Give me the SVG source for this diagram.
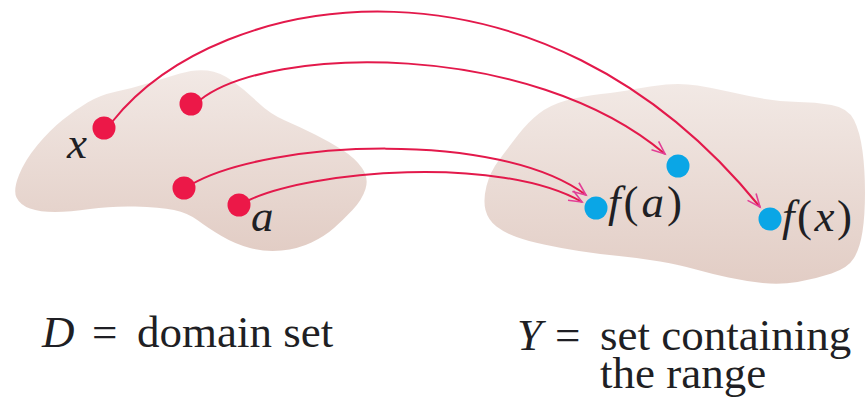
<svg xmlns="http://www.w3.org/2000/svg" width="867" height="406" viewBox="0 0 867 406">
<style>
.t{font-family:'Liberation Serif','Times New Roman',Times,Tinos,'Nimbus Roman','Nimbus Roman No9 L',FreeSerif,'Noto Serif','DejaVu Serif','Noto Serif CJK SC','Source Serif Pro',serif;font-size:45px;fill:#1f1f24}
.it{font-style:italic}
.red{fill:#EC1848}
.blue{fill:#0AA6E6}
.map{fill:none;stroke:#E3194B;stroke-width:2}
</style>
<defs>
<linearGradient id="blob" x1="0" y1="0" x2="0" y2="1">
<stop offset="0" stop-color="#F2E9E5"/>
<stop offset="1" stop-color="#E2CDC5"/>
</linearGradient>
<marker id="arr" markerUnits="userSpaceOnUse" markerWidth="18" markerHeight="16" viewBox="-15 -8 17 16" refX="0" refY="0" orient="auto">
<path d="M-13,-5.5 L0,0 L-13,5.5" fill="none" stroke="#E23E96" stroke-width="1.6"/>
</marker>
</defs>
<g id="domain-set">
<path fill="url(#blob)" d="M16.5,197.5 Q13,190 19,175 Q25,160 37.5,145 Q50,130 62.5,120 Q75,110 87.5,102.5 Q100,95 116.5,91.5 Q133,88 149,83 Q165,78 180,73.5 Q195,69 207.5,70.5 Q220,72 232.5,81 Q245,90 257.5,102 Q270,114 285,120.5 Q300,127 315,134.5 Q330,142 342.5,150 Q355,158 362,168 Q369,178 365.5,189 Q362,200 352.5,210 Q343,220 334,228 Q325,236 311.5,242.5 Q298,249 281.5,250.5 Q265,252 250,248 Q235,244 221.5,236 Q208,228 198,220.5 Q188,213 174,210 Q160,207 135,206.5 Q110,206 90,209 Q70,212 55,212 Q40,212 30,208.5 Q20,205 16.5,197.5 Z"/>
</g>
<g id="range-set">
<path fill="url(#blob)" d="M485.5,210 Q483,200 486.5,186 Q490,172 499,160 Q508,148 518,135 Q528,122 539,113.5 Q550,105 566,100.5 Q582,96 601,94 Q620,92 635,89 Q650,86 666,84.5 Q682,83 697.5,85.5 Q713,88 730.5,92 Q748,96 765,99 Q782,102 798.5,102 Q815,102 831.5,105 Q848,108 854,120 Q860,132 862.5,151 Q865,170 865,192.5 Q865,215 862.5,231.5 Q860,248 854,258 Q848,268 831.5,273.5 Q815,279 797.5,282 Q780,285 762.5,283 Q745,281 728.5,277.5 Q712,274 696,269.5 Q680,265 660,261.5 Q640,258 619,256 Q598,254 579,251 Q560,248 544,244.5 Q528,241 516.5,237 Q505,233 496.5,226.5 Q488,220 485.5,210 Z"/>
</g>
<g id="connectors">
<path class="map" marker-end="url(#arr)" d="M112,122 C220,-14 540,-64 760,207"/>
<path class="map" marker-end="url(#arr)" d="M200,100 C270,45 530,40 665,154"/>
<path class="map" marker-end="url(#arr)" d="M192,184 C270,140 500,130 586,195"/>
<path class="map" marker-end="url(#arr)" d="M247,201 C310,170 500,155 582,202"/>
</g>
<g id="point-x">
<circle class="red" cx="104" cy="128" r="11.5"/>
<text class="t it" x="67" y="158">x</text>
</g>
<g id="point-2">
<circle class="red" cx="191" cy="104" r="11.5"/>
</g>
<g id="point-3">
<circle class="red" cx="184" cy="188" r="11.5"/>
</g>
<g id="point-a">
<circle class="red" cx="239" cy="205" r="11.5"/>
<text class="t it" x="251" y="231">a</text>
</g>
<g id="image-1">
<circle class="blue" cx="678" cy="166" r="11.5"/>
</g>
<g id="point-fa">
<circle class="blue" cx="596" cy="208" r="11.5"/>
<text class="t" x="608" y="217" textLength="74" lengthAdjust="spacing"><tspan class="it">f</tspan>(<tspan class="it">a</tspan>)</text>
</g>
<g id="point-fx">
<circle class="blue" cx="770" cy="219" r="11.5"/>
<text class="t" x="782" y="231" textLength="70" lengthAdjust="spacing"><tspan class="it">f</tspan>(<tspan class="it">x</tspan>)</text>
</g>
<g id="caption-D">
<text class="t" y="347"><tspan class="it" x="42">D</tspan><tspan x="92">=</tspan><tspan x="137">domain set</tspan></text>
</g>
<g id="caption-Y">
<text class="t" y="350"><tspan class="it" x="517">Y</tspan><tspan x="555">=</tspan><tspan x="600">set containing</tspan></text>
<text class="t" x="600" y="388">the range</text>
</g>
</svg>
